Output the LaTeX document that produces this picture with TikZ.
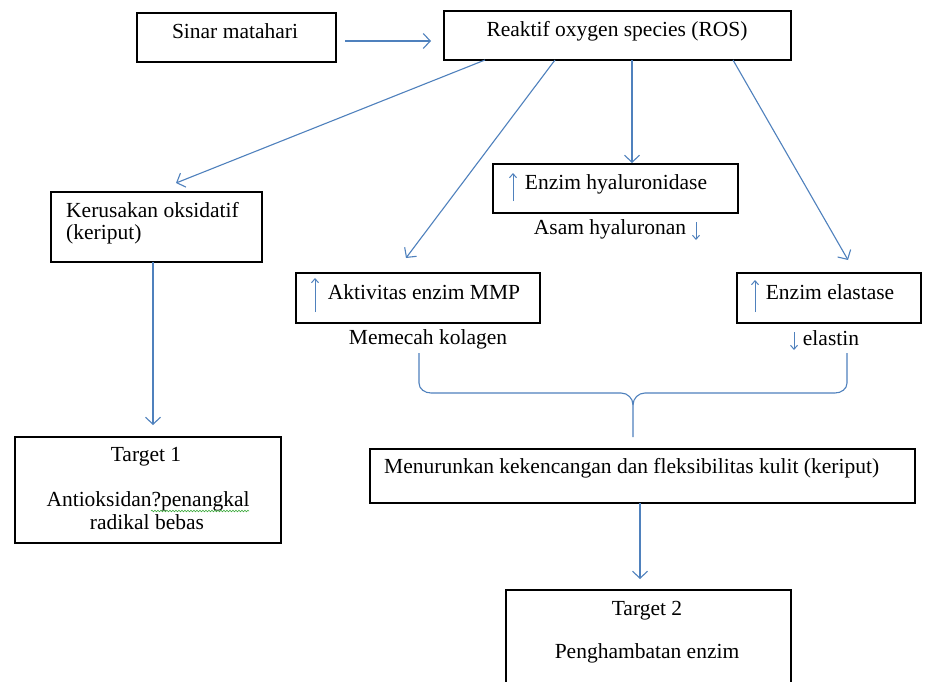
\documentclass[tikz,border=0pt]{standalone}
\usepackage{fontspec}
\setmainfont{Liberation Serif}
\usetikzlibrary{arrows.meta,decorations.pathmorphing}
\definecolor{arrowblue}{RGB}{79,129,189}
\definecolor{spellgreen}{RGB}{60,170,60}
\begin{document}
\begin{tikzpicture}[x=1pt,y=-1pt,
  box/.style={draw=black,line width=1.3pt,inner sep=0pt,outer sep=0pt,rectangle},
  lbl/.style={font=\fontsize{21.5}{25}\selectfont,inner sep=0pt,text height=15pt,text depth=4pt},
  arr/.style={draw=arrowblue,line width=1.1pt,-{Straight Barb[length=7pt,width=15pt]}},
  tinyarr/.style={draw=arrowblue,line width=1pt,-{Straight Barb[length=4pt,width=7pt]}},
  bracepath/.style={draw=arrowblue,line width=1.1pt}]
\useasboundingbox (0,0) rectangle (929,682);
\fill[white] (0,0) rectangle (929,682);
\clip (0,0) rectangle (929,682);

% boxes
\node[box,minimum width=199pt,minimum height=49pt] (sinar) at (236.5,37.5) {};
\node[box,minimum width=347pt,minimum height=49pt] (ros) at (617.5,35.5) {};
\node[box,minimum width=211pt,minimum height=70pt] (ker) at (156.5,227) {};
\node[box,minimum width=245pt,minimum height=49pt] (hyal) at (615.5,188.5) {};
\node[box,minimum width=244pt,minimum height=50pt] (mmp) at (418,298) {};
\node[box,minimum width=184pt,minimum height=50pt] (elas) at (829,298) {};
\node[box,minimum width=266pt,minimum height=106pt] (t1) at (148,490) {};
\node[box,minimum width=545pt,minimum height=54pt] (men) at (642.5,476) {};
\node[box,minimum width=285pt,minimum height=110pt] (t2) at (648.5,645) {};

% texts
\node[lbl] (sinartxt) at (235,33) {Sinar matahari};
\node[lbl] (rostxt) at (617,31) {Reaktif oxygen species (ROS)};
\node[lbl,anchor=west] (kertxt1) at (66,212) {Kerusakan oksidatif};
\node[lbl,anchor=west] (kertxt2) at (66,234) {(keriput)};
\node[lbl] (hyaltxt) at (616,184) {Enzim hyaluronidase};
\node[lbl] (asamtxt) at (610,229) {Asam hyaluronan};
\node[lbl] (mmptxt) at (424,294) {Aktivitas enzim MMP};
\node[lbl] (elastxt) at (830,294) {Enzim elastase};
\node[lbl] (memtxt) at (428,339) {Memecah kolagen};
\node[lbl] (elastintxt) at (831,340) {elastin};
\node[lbl,anchor=west] (mentxt) at (384,468) {Menurunkan kekencangan dan fleksibilitas kulit (keriput)};
\node[lbl] (t1a) at (146,456) {Target 1};
\node[lbl] (t1b) at (148,501) {Antioksidan?penangkal};
\node[lbl] (t1c) at (147,524) {radikal bebas};
\node[lbl] (t2a) at (647,610) {Target 2};
\node[lbl] (t2b) at (647,653) {Penghambatan enzim};

% spell-check underline
\draw[spellgreen,line width=0.6pt,decorate,decoration={snake,amplitude=0.8pt,segment length=3pt}] (151,511) -- (249,511);

% small up/down arrows
\draw[tinyarr] (513,201) -- (513,173);
\draw[tinyarr] (315,312) -- (315,278);
\draw[tinyarr] (755,312) -- (755,280);
\draw[tinyarr] (696,222) -- (696,240);
\draw[tinyarr] (794,332) -- (794,350);

% connectors
\draw[arr] ([xshift=9pt,yshift=-3.5pt]sinar.east) -- ([xshift=-13pt,yshift=-5.5pt]ros.west);
\draw[arr] ([xshift=-132.5pt]ros.south) -- ([xshift=19.5pt,yshift=9pt]ker.north);
\draw[arr] ([xshift=-62.5pt]ros.south) -- ([xshift=-12pt,yshift=15pt]mmp.north);
\draw[arr] ([xshift=14.5pt]ros.south) -- ([xshift=16.5pt,yshift=1pt]hyal.north);
\draw[arr] ([xshift=115.5pt]ros.south) -- ([xshift=19pt,yshift=13pt]elas.north);
\draw[arr] ([xshift=-3.5pt]ker.south) -- ([xshift=5pt,yshift=12pt]t1.north);
\draw[arr] ([xshift=-2.5pt]men.south) -- ([xshift=-8.5pt,yshift=11pt]t2.north);

% brace
\coordinate (bl) at (419,353);
\coordinate (br) at (847,353);
\coordinate (btip) at (633,437);
\draw[bracepath] (bl) -- (419,383) to[out=-90,in=180] (431,393) -- (621,393) to[out=0,in=90] (633,405) -- (btip);
\draw[bracepath] (633,405) to[out=90,in=180] (645,393) -- (835,393) to[out=0,in=-90] (847,383) -- (br);
\end{tikzpicture}
\end{document}
